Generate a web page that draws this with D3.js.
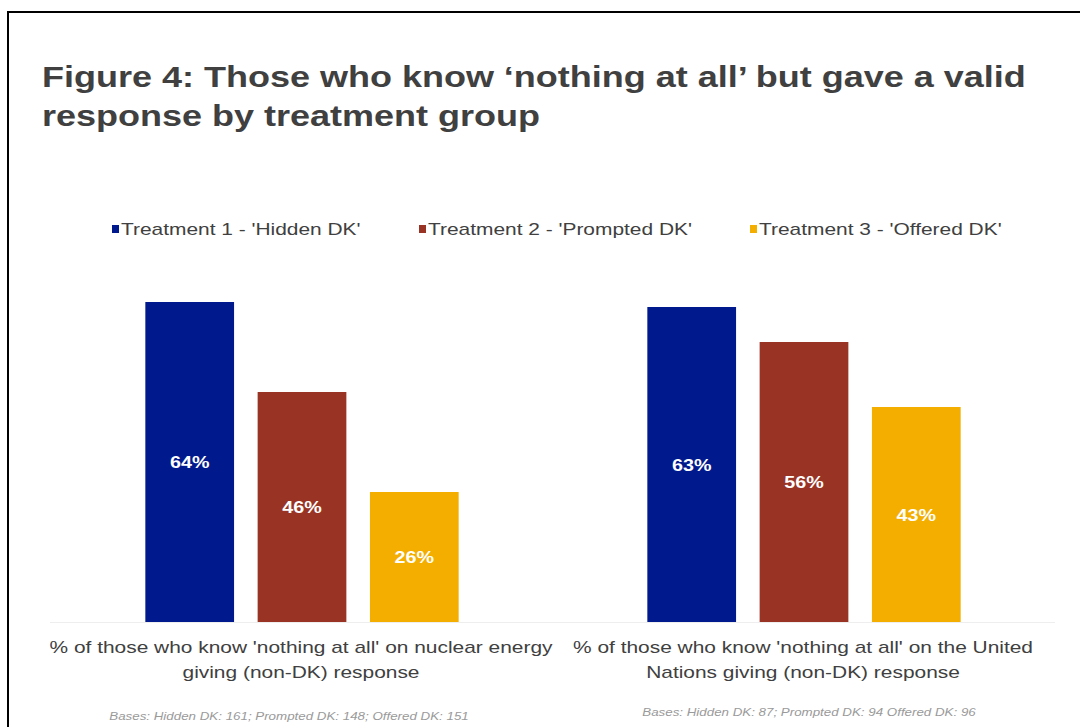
<!DOCTYPE html>
<html>
<head>
<meta charset="utf-8">
<script src="https://cdn.jsdelivr.net/npm/d3@7"></script>
<style>
  html, body { margin: 0; padding: 0; background: #fff; }
  svg { display: block; }
</style>
</head>
<body>
<svg id="chart" width="1080" height="727"></svg>
<script>
// Chart data
const titleLines = ["Figure 4: Those who know \u2018nothing at all\u2019 but gave a valid", "response by treatment group"];
const categories = ["nuclear", "un"];
const categoryLabels = [
  ["% of those who know 'nothing at all' on nuclear energy", "giving (non-DK) response"],
  ["% of those who know 'nothing at all' on the United", "Nations giving (non-DK) response"]
];
const seriesNames = ["Treatment 1 - 'Hidden DK'", "Treatment 2 - 'Prompted DK'", "Treatment 3 - 'Offered DK'"];
const hiddenDK = [64, 63];
const promptedDK = [46, 56];
const offeredDK = [26, 43];
const bases = [
  "Bases: Hidden DK: 161; Prompted DK: 148; Offered DK: 151",
  "Bases: Hidden DK: 87; Prompted DK: 94 Offered DK: 96"
];
const colors = ["#001A8E", "#993324", "#F3AE00"];

const seriesValues = [hiddenDK, promptedDK, offeredDK];
const svg = d3.select("#chart");
const font = "Liberation Sans, Arial, sans-serif";
// text in this figure is set a little wide
const SX = 1.23;
const place = (x, y, s = SX) => `translate(${x},${y}) scale(${s},1)`;

// frame
svg.append("path")
  .attr("d", "M8,1080 V12 H1080")
  .attr("fill", "none")
  .attr("stroke", "#000")
  .attr("stroke-width", 2);

// title
svg.append("g").selectAll("text").data(titleLines).join("text")
  .attr("transform", (d, i) => place(42, 87 + i * 39, 1.2))
  .attr("font-family", font)
  .attr("font-weight", "bold")
  .attr("font-size", 30)
  .attr("fill", "#404040")
  .text(d => d);

// scales
const baseY = 622;
const x0 = d3.scaleBand().domain(categories).range([50, 1054]).paddingInner(0).paddingOuter(0);
const x1 = d3.scaleBand().domain(d3.range(seriesNames.length)).range([0, x0.bandwidth()]).paddingInner(0.21).paddingOuter(0.84);
const y = d3.scaleLinear().domain([0, 64]).range([baseY, 302]);

// baseline
svg.append("line")
  .attr("x1", 50).attr("x2", 1055)
  .attr("y1", baseY + 0.5).attr("y2", baseY + 0.5)
  .attr("stroke", "#eeeeee").attr("stroke-width", 1);

// bars
const groups = svg.append("g").selectAll("g").data(categories).join("g")
  .attr("transform", d => `translate(${x0(d) + 1},0)`);

groups.each(function(cat, ci) {
  const g = d3.select(this);
  const rows = seriesValues.map((vals, si) => ({ si, v: vals[ci] }));
  g.selectAll("rect").data(rows).join("rect")
    .attr("x", d => x1(d.si))
    .attr("width", x1.bandwidth())
    .attr("y", d => y(d.v))
    .attr("height", d => y(0) - y(d.v))
    .attr("fill", d => colors[d.si]);
  g.selectAll("text.val").data(rows).join("text")
    .attr("class", "val")
    .attr("transform", d => place(x1(d.si) + x1.bandwidth() / 2, (y(d.v) + y(0)) / 2 + 6))
    .attr("text-anchor", "middle")
    .attr("font-family", font)
    .attr("font-weight", "bold")
    .attr("font-size", 16)
    .attr("fill", "#ffffff")
    .text(d => d.v + "%");
});

// category labels
svg.append("g").selectAll("g").data(categories).join("g")
  .each(function(cat, ci) {
    d3.select(this).selectAll("text").data(categoryLabels[ci]).join("text")
      .attr("transform", (d, i) => place(x0(cat) + x0.bandwidth() / 2, 653 + i * 25))
      .attr("text-anchor", "middle")
      .attr("font-family", font)
      .attr("font-size", 17)
      .attr("fill", "#404040")
      .text(d => d);
  });

// bases notes
svg.append("g").selectAll("text").data(bases).join("text")
  .attr("transform", (d, i) => place([289, 809][i], [720, 716][i], 1.27))
  .attr("text-anchor", "middle")
  .attr("font-family", font)
  .attr("font-style", "italic")
  .attr("font-size", 10.5)
  .attr("fill", "#9a9a9a")
  .text(d => d);

// legend
const legendX = [112, 419, 750];
const legend = svg.append("g").selectAll("g").data(seriesNames).join("g")
  .attr("transform", (d, i) => `translate(${legendX[i]},229)`);
legend.append("rect")
  .attr("x", 0).attr("y", -4).attr("width", 7).attr("height", 8)
  .attr("fill", (d, i) => colors[i]);
legend.append("text")
  .attr("transform", place(9, 6))
  .attr("font-family", font)
  .attr("font-size", 17)
  .attr("fill", "#404040")
  .text(d => d);
</script>
</body>
</html>
